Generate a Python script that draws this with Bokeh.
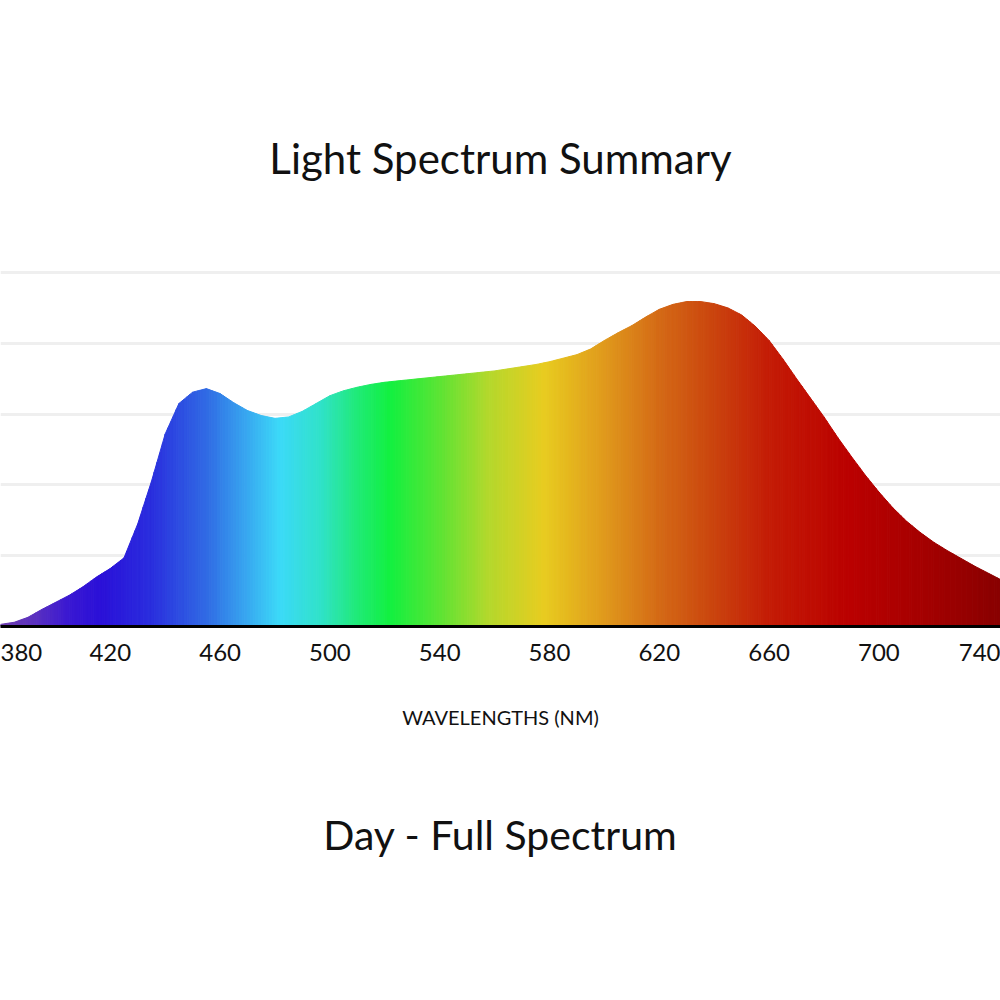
import numpy as np
from bokeh.plotting import figure
from bokeh.models import Range1d, Label, Title
from bokeh.embed import file_html
from bokeh.resources import INLINE

# ---------------- data ----------------
wavelengths = [380, 385, 390, 395, 400, 405, 410, 415, 420, 425, 430, 435, 440, 445,
               450, 455, 460, 465, 470, 475, 480, 485, 490, 495, 500, 505, 510, 515,
               520, 525, 530, 535, 540, 545, 550, 555, 560, 565, 570, 575, 580, 585,
               590, 595, 600, 605, 610, 615, 620, 625, 630, 635, 640, 645, 650, 655,
               660, 665, 670, 675, 680, 685, 690, 695, 700, 705, 710, 715, 720, 725,
               730, 735, 740, 745]
intensity = [0.03, 0.06, 0.13, 0.24, 0.34, 0.44, 0.56, 0.70, 0.82, 0.97, 1.45, 2.05, 2.72, 3.15,
             3.31, 3.36, 3.29, 3.16, 3.05, 2.98, 2.94, 2.96, 3.04, 3.15, 3.26, 3.33, 3.38, 3.42,
             3.45, 3.47, 3.49, 3.51, 3.53, 3.55, 3.57, 3.59, 3.61, 3.64, 3.67, 3.70, 3.74, 3.79,
             3.84, 3.92, 4.04, 4.15, 4.25, 4.37, 4.48, 4.55, 4.59, 4.59, 4.56, 4.50, 4.40, 4.24,
             4.04, 3.78, 3.50, 3.23, 2.96, 2.67, 2.40, 2.14, 1.90, 1.68, 1.49, 1.33, 1.19, 1.07,
             0.96, 0.85, 0.75, 0.65]
tick_values = [380, 420, 460, 500, 540, 580, 620, 660, 700, 740]
grid_values = [1, 2, 3, 4, 5]
stop_nm = [380, 393, 405, 417, 435, 455, 470, 482, 497, 510, 522, 540, 558, 578,
           600, 620, 640, 660, 690, 715, 745]
stop_colors = ["#7040b0", "#5a30c0", "#3a18d2", "#2a10d8", "#2a2ede", "#306ae4", "#38a8f0",
               "#3cdaf8", "#30e2c8", "#20ea78", "#12f040", "#5ce434", "#b4d82c", "#e8cc20",
               "#e09a1c", "#d46a16", "#ca440e", "#c41c06", "#ba0000", "#a60000", "#880000"]
title_text = "Light Spectrum Summary"
subtitle_text = "Day - Full Spectrum"
axis_title = "WAVELENGTHS (NM)"

FONT = "Lato"

# ---------------- helpers ----------------
def hex_to_rgb(h):
    h = h.lstrip("#")
    return np.array([int(h[i:i + 2], 16) for i in (0, 2, 4)], dtype=float)

stop_rgb = np.array([hex_to_rgb(c) for c in stop_colors])

def color_at(nm):
    r = np.interp(nm, stop_nm, stop_rgb[:, 0])
    g = np.interp(nm, stop_nm, stop_rgb[:, 1])
    b = np.interp(nm, stop_nm, stop_rgb[:, 2])
    return "#%02x%02x%02x" % (int(round(r)), int(round(g)), int(round(b)))

# gradient fill: split the area under each segment into thin vertical slices
xs, ys, cols = [], [], []
K = 5
for i in range(len(wavelengths) - 1):
    x0, x1 = wavelengths[i], wavelengths[i + 1]
    y0, y1 = intensity[i], intensity[i + 1]
    for j in range(K):
        t0, t1 = j / K, (j + 1) / K
        xa, xb = x0 + t0 * (x1 - x0), x0 + t1 * (x1 - x0)
        ya, yb = y0 + t0 * (y1 - y0), y0 + t1 * (y1 - y0)
        xs.append([xa, xb, xb, xa])
        ys.append([0, 0, yb, ya])
        cols.append(color_at(0.5 * (xa + xb)))

# ---------------- figure ----------------
PX_PER_UNIT = 70.8
PX_PER_NM = 2.745
BASE = 626
X0 = 380.0
p = figure(width=1000, height=1000, output_backend="svg", toolbar_location=None,
           x_range=Range1d(X0, X0 + 1000 / PX_PER_NM),
           y_range=Range1d(0, BASE / PX_PER_UNIT),
           y_axis_location=None,
           min_border_left=0, min_border_right=0, min_border_top=0,
           min_border_bottom=1000 - BASE)
p.outline_line_color = None
p.background_fill_color = "white"
p.border_fill_color = "white"

p.patches(xs, ys, fill_color=cols, line_color=cols, line_width=1)

p.xgrid.grid_line_color = None
p.ygrid.ticker = grid_values
p.ygrid.grid_line_color = "#efefef"
p.ygrid.grid_line_width = 3

ax = p.xaxis[0]
ax.ticker = tick_values
ax.major_tick_line_color = None
ax.minor_tick_line_color = None
ax.axis_line_color = "black"
ax.axis_line_width = 3
ax.major_label_text_font = FONT
ax.major_label_text_font_size = "24px"
ax.major_label_text_color = "#111111"
ax.major_label_standoff = 11
ax.axis_label = axis_title
ax.axis_label_text_font = FONT
ax.axis_label_text_font_size = "20px"
ax.axis_label_text_font_style = "normal"
ax.axis_label_text_color = "#111111"
ax.axis_label_standoff = 41

xmid = X0 + 500 / PX_PER_NM
p.add_layout(Label(x=xmid, y=(BASE - 157) / PX_PER_UNIT, text=title_text,
                   text_align="center", text_baseline="alphabetic",
                   text_font=FONT, text_font_size="42px", text_color="#111111"))

sub = Title(text=subtitle_text, align="center", text_font=FONT, text_font_size="41px",
            text_font_style="normal", text_color="#111111", standoff=153)
p.add_layout(sub, "below")

open("out.html", "w").write(file_html(p, INLINE))
